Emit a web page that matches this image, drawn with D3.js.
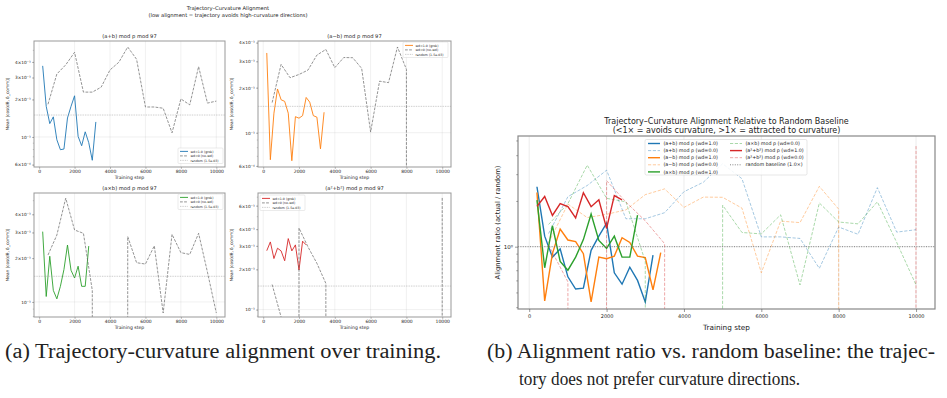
<!DOCTYPE html>
<html>
<head>
<meta charset="utf-8">
<script src="https://cdn.jsdelivr.net/npm/d3@7"></script>
<style>
  body { margin: 0; background: #fff; }
  svg text { font-family: "DejaVu Sans", sans-serif; fill: #222; }
  svg text.cap { font-family: "Liberation Serif", "DejaVu Serif", serif; fill: #222; }
</style>
</head>
<body>
<svg id="fig" width="947" height="398"></svg>
<script>
// ---- data ----
const xTicks = [0, 2000, 4000, 6000, 8000, 10000];
const randomBaseline = 1.5e-3;

const stepsAdd = [200, 400, 600, 800, 1000, 1200, 1400, 1600, 1800, 2000, 2200, 2400, 2600, 2800, 3000, 3200];
const addGrok = [3.72e-3, 1.76e-3, 1.28e-3, 1.45e-3, 0.95e-3, 0.79e-3, 0.80e-3, 1.42e-3, 1.76e-3, 2.14e-3, 1.01e-3, 0.85e-3, 1.10e-3, 0.90e-3, 0.65e-3, 1.32e-3];

const stepsSub = [200, 400, 600, 800, 1000, 1200, 1400, 1600, 1800, 2000, 2200, 2400, 2600, 2800, 3000, 3200, 3400];
const subGrok = [3.41e-3, 0.66e-3, 1.35e-3, 1.96e-3, 1.66e-3, 1.62e-3, 1.35e-3, 0.65e-3, 1.28e-3, 1.25e-3, 1.30e-3, 1.72e-3, 1.60e-3, 1.30e-3, 1.27e-3, 0.78e-3, 1.37e-3];

const stepsMul = [200, 400, 600, 800, 1000, 1200, 1400, 1600, 1800, 2000, 2200, 2400, 2600, 2800];
const mulGrok = [3.04e-3, 1.09e-3, 2.06e-3, 1.20e-3, 1.05e-3, 1.28e-3, 1.67e-3, 2.46e-3, 1.65e-3, 1.46e-3, 1.76e-3, 1.28e-3, 1.28e-3, 2.42e-3];

const stepsSq = [200, 400, 600, 800, 1000, 1200, 1400, 1600, 1800, 2000, 2200, 2400];
const sqGrok = [2.76e-3, 3.21e-3, 2.41e-3, 2.88e-3, 2.75e-3, 2.32e-3, 3.40e-3, 2.75e-3, 3.05e-3, 1.98e-3, 3.25e-3, 3.05e-3];

// no weight decay runs, every 500 steps; 0 = collapsed (clipped off the log axis)
const stepsNoWd = [500, 1000, 1500, 2000, 2500, 3000, 3500, 4000, 4500, 5000, 5500, 6000, 6500, 7000, 7500, 8000, 8500, 9000, 9500, 10000];
const addNoWd = [1.83e-3, 3.2e-3, 3.79e-3, 4.78e-3, 2.29e-3, 2.29e-3, 2.51e-3, 3.45e-3, 3.98e-3, 5.27e-3, 4.2e-3, 1.74e-3, 1.74e-3, 1.7e-3, 1.08e-3, 2.02e-3, 1.81e-3, 3.67e-3, 1.87e-3, 1.94e-3];
const subNoWd = [1.59e-3, 2.86e-3, 2.33e-3, 2.45e-3, 2.62e-3, 3.3e-3, 3.6e-3, 2.72e-3, 3.18e-3, 3.17e-3, 2.69e-3, 1.01e-3, 2.21e-3, 2.16e-3, 3.74e-3, 2.65e-3, 0, 0, 0, 0];
const mulNoWd = [2.1e-3, 2.88e-3, 5.16e-3, 3.12e-3, 2.96e-3, 1.2e-3, 0, 0, 0, 2.81e-3, 1.86e-3, 1.82e-3, 2.43e-3, 0.84e-3, 2.91e-3, 2.18e-3, 2.12e-3, 2.96e-3, 1.6e-3, 0.84e-3];
const sqNoWd = [1.54e-3, 0.88e-3, 0, 4.08e-3, 2.95e-3, 2.22e-3, 1.57e-3, 0, 0, 0, 0, 0, 0, 0, 0, 0, 0, 0, 0, 6.9e-3];

const colors = {add: '#1f77b4', sub: '#ff7f0e', mul: '#2ca02c', sq: '#d62728'};

const svg = d3.select('#fig');
const safe = v => v > 0 ? v : 1e-300;
const supMap = {'-': '\u207B', '0': '\u2070', '1': '\u00B9', '2': '\u00B2', '3': '\u00B3', '4': '\u2074', '5': '\u2075', '6': '\u2076', '7': '\u2077', '8': '\u2078', '9': '\u2079'};
const sup = s => String(s).split('').map(c => supMap[c]).join('');
const fmtLog = v => {
  const e = Math.floor(Math.log10(v) + 1e-9);
  const m = Math.round(v / Math.pow(10, e));
  return (m === 1 ? '' : m + '\u00D7') + '10' + sup(e);
};
const minorVals = dom => {
  const out = [];
  for (let e = -5; e <= 1; e++) for (let m = 1; m <= 9; m++) {
    const v = m * Math.pow(10, e);
    if (v >= dom[0] && v <= dom[1]) out.push(v);
  }
  return out;
};

// ---- figure (a): 2x2 small panels ----
svg.append('text').attr('x', 228).attr('y', 10).attr('text-anchor', 'middle')
  .attr('font-size', 5.2).text('Trajectory\u2013Curvature Alignment');
svg.append('text').attr('x', 228).attr('y', 16.6).attr('text-anchor', 'middle')
  .attr('font-size', 5.2).text('(low alignment = trajectory avoids high-curvature directions)');

const panels = [
  {id: 'tl', x0: 34, x1: 225, y0: 41, y1: 167, title: '(a+b) mod p mod 97', dom: [5.74e-4, 5.89e-3],
   ticks: [6e-4, 1e-3, 2e-3, 3e-3, 4e-3], steps: stepsAdd, grok: addGrok, noWd: addNoWd, color: colors.add,
   legend: [178, 148]},
  {id: 'tr', x0: 258, x1: 451, y0: 41, y1: 167, title: '(a\u2212b) mod p mod 97', dom: [5.9e-4, 4.1e-3],
   ticks: [6e-4, 1e-3, 2e-3, 3e-3, 4e-3], steps: stepsSub, grok: subGrok, noWd: subNoWd, color: colors.sub,
   legend: [403, 42]},
  {id: 'bl', x0: 34, x1: 225, y0: 193, y1: 317, title: '(a\u00D7b) mod p mod 97', dom: [7.88e-4, 5.6e-3],
   ticks: [1e-3, 2e-3, 3e-3, 4e-3], steps: stepsMul, grok: mulGrok, noWd: mulNoWd, color: colors.mul,
   legend: [178, 194]},
  {id: 'br', x0: 258, x1: 451, y0: 193, y1: 317, title: '(a\u00B2+b\u00B2) mod p mod 97', dom: [8.8e-4, 7.46e-3],
   ticks: [1e-3, 2e-3, 3e-3, 4e-3, 6e-3], steps: stepsSq, grok: sqGrok, noWd: sqNoWd, color: colors.sq,
   legend: [260, 195]}
];

panels.forEach(p => {
  const x = d3.scaleLinear().domain([-290, 10490]).range([p.x0, p.x1]);
  const y = d3.scaleLog().domain(p.dom).range([p.y1, p.y0]);
  const g = svg.append('g');

  g.append('clipPath').attr('id', 'clip-' + p.id).append('rect')
    .attr('x', p.x0).attr('y', p.y0).attr('width', p.x1 - p.x0).attr('height', p.y1 - p.y0);

  // grid
  g.selectAll('.vg').data(xTicks).join('line')
    .attr('x1', d => x(d)).attr('x2', d => x(d)).attr('y1', p.y0).attr('y2', p.y1)
    .attr('stroke', '#b0b0b0').attr('stroke-opacity', 0.35).attr('stroke-width', 0.5);
  g.selectAll('.hg').data([1e-3, 1e-2].filter(v => v > p.dom[0] && v < p.dom[1])).join('line')
    .attr('x1', p.x0).attr('x2', p.x1).attr('y1', d => y(d)).attr('y2', d => y(d))
    .attr('stroke', '#b0b0b0').attr('stroke-opacity', 0.35).attr('stroke-width', 0.5);

  const plot = g.append('g').attr('clip-path', `url(#clip-${p.id})`);
  const line = d3.line().x(d => x(d[0])).y(d => y(safe(d[1])));

  plot.append('path').datum(p.steps.map((s, i) => [s, p.grok[i]]))
    .attr('d', line).attr('fill', 'none').attr('stroke', p.color).attr('stroke-width', 0.9);
  plot.append('path').datum(stepsNoWd.map((s, i) => [s, p.noWd[i]]))
    .attr('d', line).attr('fill', 'none').attr('stroke', '#666').attr('stroke-width', 0.7)
    .attr('stroke-dasharray', '2.8,1.3');
  plot.append('line').attr('x1', p.x0).attr('x2', p.x1)
    .attr('y1', y(randomBaseline)).attr('y2', y(randomBaseline))
    .attr('stroke', '#999').attr('stroke-width', 0.6).attr('stroke-dasharray', '0.8,0.9');

  // frame
  g.append('rect').attr('x', p.x0).attr('y', p.y0).attr('width', p.x1 - p.x0).attr('height', p.y1 - p.y0)
    .attr('fill', 'none').attr('stroke', '#999').attr('stroke-width', 1);

  // axes
  const gx = g.append('g').attr('transform', `translate(0,${p.y1})`)
    .call(d3.axisBottom(x).tickValues(xTicks).tickSize(2).tickPadding(1.2).tickFormat(d3.format('d')));
  gx.select('.domain').remove();
  gx.selectAll('line').attr('stroke', '#666').attr('stroke-width', 0.4);
  gx.selectAll('text').attr('font-size', 4.5).attr('fill', '#333').attr('font-family', 'DejaVu Sans');

  const gyMinor = g.append('g').attr('transform', `translate(${p.x0},0)`)
    .call(d3.axisLeft(y).tickValues(minorVals(p.dom)).tickSize(1.2).tickFormat(''));
  gyMinor.select('.domain').remove();
  gyMinor.selectAll('line').attr('stroke', '#666').attr('stroke-width', 0.3);

  const gy = g.append('g').attr('transform', `translate(${p.x0},0)`)
    .call(d3.axisLeft(y).tickValues(p.ticks).tickSize(2).tickPadding(1.2).tickFormat(fmtLog));
  gy.select('.domain').remove();
  gy.selectAll('line').attr('stroke', '#666').attr('stroke-width', 0.4);
  gy.selectAll('text').attr('font-size', 4.3).attr('fill', '#333').attr('font-family', 'DejaVu Sans');

  g.append('text').attr('x', (p.x0 + p.x1) / 2).attr('y', p.y0 - 3.2).attr('text-anchor', 'middle')
    .attr('font-size', 5.2).text(p.title);
  g.append('text').attr('x', (p.x0 + p.x1) / 2).attr('y', p.y1 + 12.2).attr('text-anchor', 'middle')
    .attr('font-size', 4.6).text('Training step');
  g.append('text').attr('transform', `translate(${p.x0 - 25.5},${(p.y0 + p.y1) / 2}) rotate(-90)`)
    .attr('text-anchor', 'middle').attr('font-size', 4.3).text('Mean |cos(d\u03B8, \u03B4_comm)|');

  // legend
  const [lx, ly] = p.legend;
  const lg = g.append('g').attr('transform', `translate(${lx},${ly})`);
  lg.append('rect').attr('width', 45).attr('height', 15.5).attr('rx', 1)
    .attr('fill', '#fff').attr('fill-opacity', 0.85).attr('stroke', '#ccc').attr('stroke-width', 0.4);
  const entries = [
    {label: 'wd=1.0 (grok)', stroke: p.color, dash: null, w: 0.9},
    {label: 'wd=0 (no-wd)', stroke: '#666', dash: '2.8,1.3', w: 0.7},
    {label: 'random (1.5e-03)', stroke: '#999', dash: '0.8,0.9', w: 0.6}
  ];
  entries.forEach((e, i) => {
    const yy = 3.4 + i * 4.5;
    lg.append('line').attr('x1', 2).attr('x2', 10).attr('y1', yy).attr('y2', yy)
      .attr('stroke', e.stroke).attr('stroke-width', e.w).attr('stroke-dasharray', e.dash);
    lg.append('text').attr('x', 12.5).attr('y', yy + 1.1).attr('font-size', 3.2).text(e.label);
  });
});

// ---- figure (b): ratio to random baseline ----
{
  const X0 = 518, X1 = 935, Y0 = 136, Y1 = 309;
  const x = d3.scaleLinear().domain([-290, 10490]).range([X0, X1]);
  const y = d3.scaleLog().domain([0.389, 5.35]).range([Y1, Y0]);
  const g = svg.append('g');

  g.append('clipPath').attr('id', 'clip-b').append('rect')
    .attr('x', X0).attr('y', Y0).attr('width', X1 - X0).attr('height', Y1 - Y0);

  g.selectAll('.vg').data(xTicks).join('line')
    .attr('x1', d => x(d)).attr('x2', d => x(d)).attr('y1', Y0).attr('y2', Y1)
    .attr('stroke', '#b0b0b0').attr('stroke-opacity', 0.35).attr('stroke-width', 0.7);
  g.append('line').attr('x1', X0).attr('x2', X1).attr('y1', y(1)).attr('y2', y(1))
    .attr('stroke', '#b0b0b0').attr('stroke-opacity', 0.35).attr('stroke-width', 0.7);

  const series = [
    {label: '(a+b) mod p (wd=1.0)', steps: stepsAdd, vals: addGrok, color: colors.add, dashed: false},
    {label: '(a+b) mod p (wd=0.0)', steps: stepsNoWd, vals: addNoWd, color: colors.add, dashed: true},
    {label: '(a\u2212b) mod p (wd=1.0)', steps: stepsSub, vals: subGrok, color: colors.sub, dashed: false},
    {label: '(a\u2212b) mod p (wd=0.0)', steps: stepsNoWd, vals: subNoWd, color: colors.sub, dashed: true},
    {label: '(a\u00D7b) mod p (wd=1.0)', steps: stepsMul, vals: mulGrok, color: colors.mul, dashed: false},
    {label: '(a\u00D7b) mod p (wd=0.0)', steps: stepsNoWd, vals: mulNoWd, color: colors.mul, dashed: true},
    {label: '(a\u00B2+b\u00B2) mod p (wd=1.0)', steps: stepsSq, vals: sqGrok, color: colors.sq, dashed: false},
    {label: '(a\u00B2+b\u00B2) mod p (wd=0.0)', steps: stepsNoWd, vals: sqNoWd, color: colors.sq, dashed: true}
  ];

  const plot = g.append('g').attr('clip-path', 'url(#clip-b)');
  const line = d3.line().x(d => x(d[0])).y(d => y(safe(d[1] / randomBaseline)));
  series.forEach(s => {
    plot.append('path').datum(s.steps.map((st, i) => [st, s.vals[i]]))
      .attr('d', line).attr('fill', 'none').attr('stroke', s.color)
      .attr('stroke-width', s.dashed ? 0.9 : 1.4)
      .attr('stroke-opacity', s.dashed ? 0.45 : 1)
      .attr('stroke-dasharray', s.dashed ? '3.2,1.6' : null);
  });
  plot.append('line').attr('x1', X0).attr('x2', X1).attr('y1', y(1)).attr('y2', y(1))
    .attr('stroke', '#777').attr('stroke-width', 0.9).attr('stroke-dasharray', '1,1.4');

  g.append('rect').attr('x', X0).attr('y', Y0).attr('width', X1 - X0).attr('height', Y1 - Y0)
    .attr('fill', 'none').attr('stroke', '#888').attr('stroke-width', 1.2);

  const gx = g.append('g').attr('transform', `translate(0,${Y1})`)
    .call(d3.axisBottom(x).tickValues(xTicks).tickSize(3).tickPadding(2).tickFormat(d3.format('d')));
  gx.select('.domain').remove();
  gx.selectAll('line').attr('stroke', '#555').attr('stroke-width', 0.6);
  gx.selectAll('text').attr('font-size', 5).attr('fill', '#333').attr('font-family', 'DejaVu Sans');

  const gyMinor = g.append('g').attr('transform', `translate(${X0},0)`)
    .call(d3.axisLeft(y).tickValues(minorVals([0.389, 5.35]).filter(v => v !== 1)).tickSize(1.8).tickFormat(''));
  gyMinor.select('.domain').remove();
  gyMinor.selectAll('line').attr('stroke', '#555').attr('stroke-width', 0.5);
  const gy = g.append('g').attr('transform', `translate(${X0},0)`)
    .call(d3.axisLeft(y).tickValues([1]).tickSize(3).tickPadding(2).tickFormat(fmtLog));
  gy.select('.domain').remove();
  gy.selectAll('line').attr('stroke', '#555').attr('stroke-width', 0.6);
  gy.selectAll('text').attr('font-size', 5.5).attr('fill', '#333').attr('font-family', 'DejaVu Sans');

  g.append('text').attr('x', (X0 + X1) / 2).attr('y', 123.5).attr('text-anchor', 'middle')
    .attr('font-size', 8).text('Trajectory\u2013Curvature Alignment Relative to Random Baseline');
  g.append('text').attr('x', (X0 + X1) / 2).attr('y', 132.5).attr('text-anchor', 'middle')
    .attr('font-size', 8).text('(<1\u00D7 = avoids curvature, >1\u00D7 = attracted to curvature)');
  g.append('text').attr('x', (X0 + X1) / 2).attr('y', 329.5).attr('text-anchor', 'middle')
    .attr('font-size', 7.3).text('Training step');
  g.append('text').attr('transform', `translate(499.5,${(Y0 + Y1) / 2}) rotate(-90)`)
    .attr('text-anchor', 'middle').attr('font-size', 6.8).text('Alignment ratio (actual / random)');

  // legend, two columns
  const lg = g.append('g').attr('transform', 'translate(645,139.5)');
  lg.append('rect').attr('width', 162).attr('height', 35.5).attr('rx', 1.5)
    .attr('fill', '#fff').attr('fill-opacity', 0.85).attr('stroke', '#ccc').attr('stroke-width', 0.5);
  const items = series.map(s => ({label: s.label, color: s.color, dashed: s.dashed, dotted: false}))
    .concat([{label: 'random baseline (1.0\u00D7)', color: '#777', dashed: false, dotted: true}]);
  items.forEach((it, i) => {
    const col = i < 5 ? 0 : 1;
    const row = i < 5 ? i : i - 5;
    const hx = col === 0 ? 3 : 85;
    const yy = 4 + row * 7.1;
    lg.append('line').attr('x1', hx).attr('x2', hx + 12).attr('y1', yy).attr('y2', yy)
      .attr('stroke', it.color)
      .attr('stroke-width', it.dotted ? 0.9 : (it.dashed ? 0.9 : 1.4))
      .attr('stroke-opacity', it.dashed ? 0.45 : 1)
      .attr('stroke-dasharray', it.dotted ? '1,1.4' : (it.dashed ? '3.2,1.6' : null));
    lg.append('text').attr('x', hx + 15.5).attr('y', yy + 1.6).attr('font-size', 4.8).text(it.label);
  });
}

// ---- captions ----
const caps = [
  {x: 5, y: 358, w: 436, fs: 20, t: '(a) Trajectory-curvature alignment over training.'},
  {x: 487, y: 358, w: 448, fs: 20, t: '(b) Alignment ratio vs. random baseline: the trajec-'},
  {x: 519, y: 385, w: 281, fs: 18.5, t: 'tory does not prefer curvature directions.'}
];
svg.selectAll('text.cap').data(caps).join('text').attr('class', 'cap')
  .attr('x', d => d.x).attr('y', d => d.y).attr('font-size', d => d.fs)
  .attr('textLength', d => d.w).attr('lengthAdjust', 'spacingAndGlyphs')
  .text(d => d.t);
</script>
</body>
</html>
